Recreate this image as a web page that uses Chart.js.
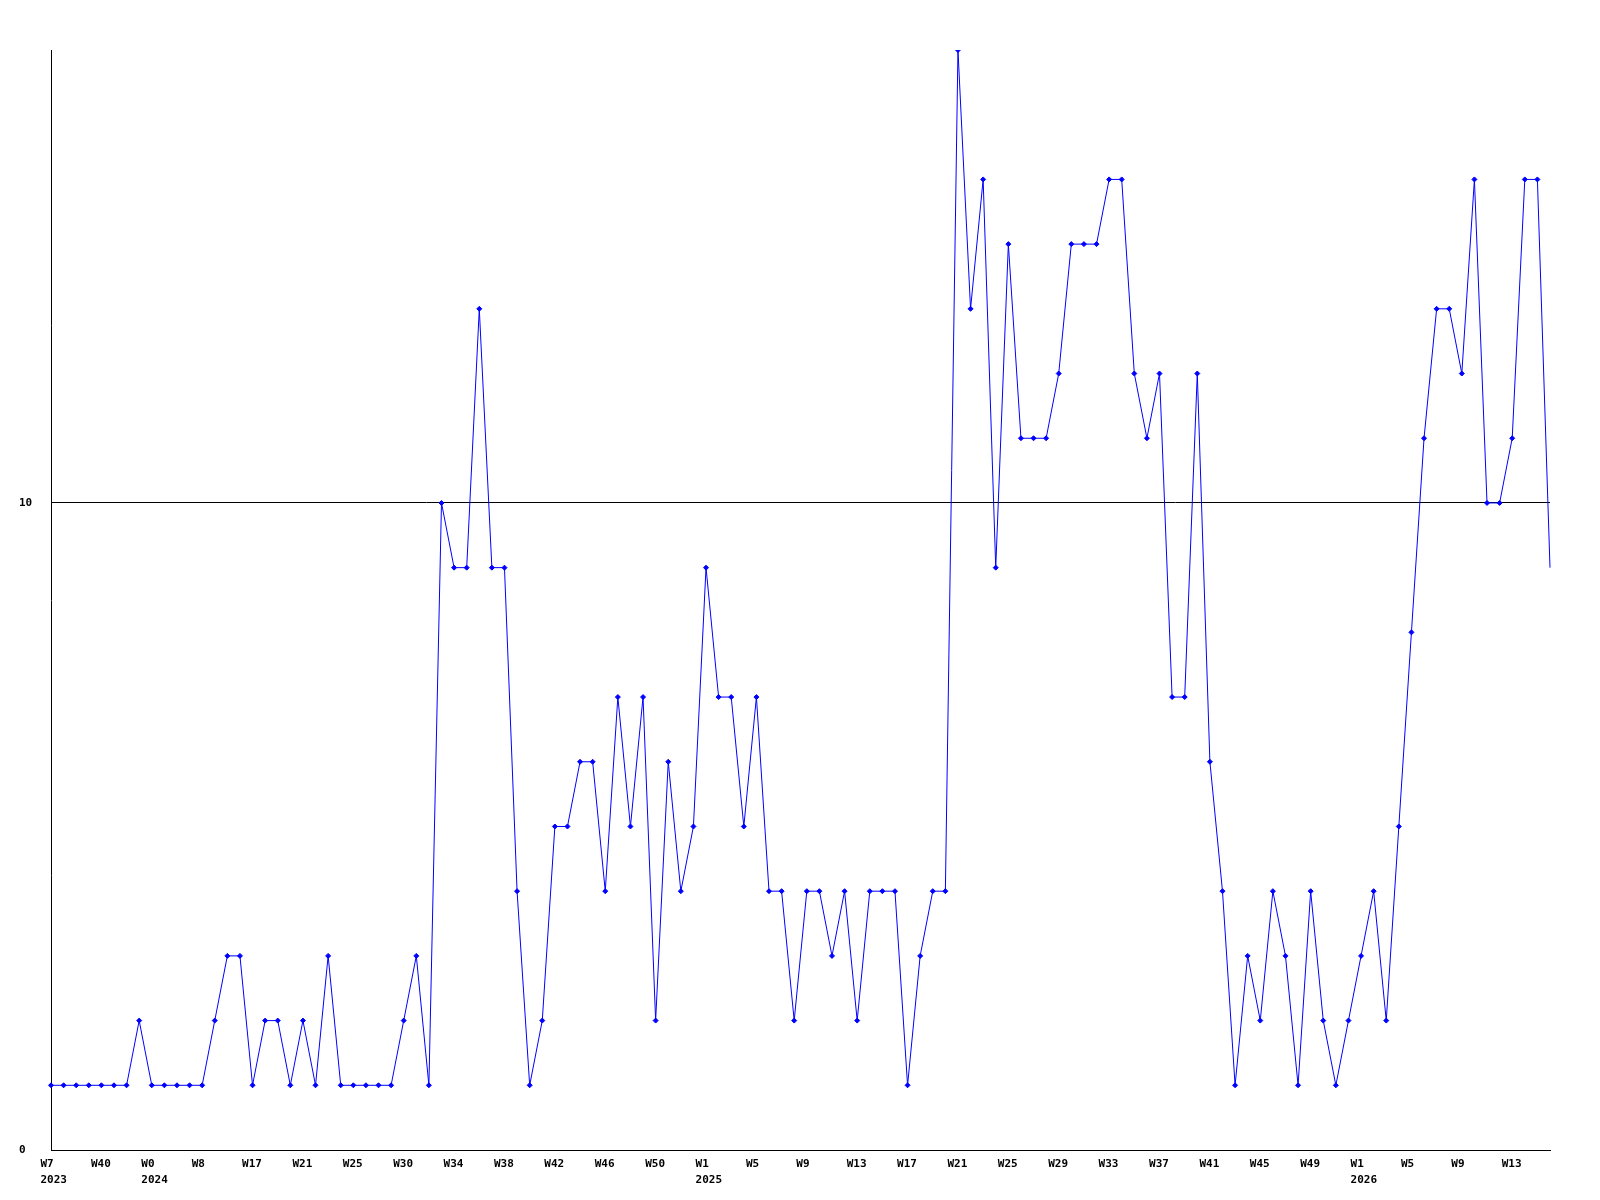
<!DOCTYPE html>
<html>
<head>
<meta charset="utf-8">
<title>Weekly count</title>
<script src="https://cdn.jsdelivr.net/npm/chart.js"></script>
<style>
    body { margin: 0; background: #ffffff; }
    canvas { display: block; }
</style>
</head>
<body>
<canvas id="myChart1" width="1600" height="1200"></canvas>
<script>

// weekly values, one per point
var values = [
    1, 1, 1, 1, 1, 1, 1, 2, 1, 1,
    1, 1, 1, 2, 3, 3, 1, 2, 2, 1,
    2, 1, 3, 1, 1, 1, 1, 1, 2, 3,
    1, 10, 9, 9, 13, 9, 9, 4, 1, 2,
    5, 5, 6, 6, 4, 7, 5, 7, 2, 6,
    4, 5, 9, 7, 7, 5, 7, 4, 4, 2,
    4, 4, 3, 4, 2, 4, 4, 4, 1, 3,
    4, 4, 17, 13, 15, 9, 14, 11, 11, 11,
    12, 14, 14, 14, 15, 15, 12, 11, 12, 7,
    7, 12, 6, 4, 1, 3, 2, 4, 3, 1,
    4, 2, 1, 2, 3, 4, 2, 5, 8, 11,
    13, 13, 12, 15, 10, 10, 11, 15, 15, 9
];

// x tick labels, one every 4 points
var weekLabels = ['W7', 'W40', 'W0', 'W8', 'W17', 'W21', 'W25', 'W30', 'W34', 'W38',
    'W42', 'W46', 'W50', 'W1', 'W5', 'W9', 'W13', 'W17', 'W21', 'W25',
    'W29', 'W33', 'W37', 'W41', 'W45', 'W49', 'W1', 'W5', 'W9', 'W13'];
var yearLabels = ['2023', '', '2024', '', '', '', '', '', '', '',
    '', '', '', '2025', '', '', '', '', '', '',
    '', '', '', '', '', '', '2026', '', '', ''];
var labelStep = 4;

var yTicks = [0, 10];
var yMax = 17;

// category labels for every point, most of them empty
var labels = [];
for (var i = 0; i < values.length; i++) {
    if (i % labelStep === 0) {
        var k = i / labelStep;
        labels.push(yearLabels[k] ? [weekLabels[k], yearLabels[k]] : weekLabels[k]);
    } else {
        labels.push('');
    }
}

var tickFont = {
    family: '"DejaVu Sans Mono", monospace',
    size: 11,
    weight: 'bold',
    lineHeight: 1.45
};

var ctx = document.getElementById('myChart1').getContext('2d');
var chart = new Chart(ctx, {
    type: 'line',

    data: {
        labels: labels,
        datasets: [{
            data: values,
            borderColor: '#0000ff',
            backgroundColor: '#0000ff',
            borderWidth: 1,
            tension: 0,
            fill: false,
            pointStyle: 'rectRot',
            pointRadius: function(c) {
                return c.dataIndex === values.length - 1 ? 0 : 2.5;
            },
            pointBorderWidth: 1,
            pointBorderColor: '#0000ff',
            pointBackgroundColor: '#0000ff'
        }]
    },

    options: {
        responsive: false,
        animation: false,
        devicePixelRatio: 1,
        layout: {
            padding: { left: 19, top: 50, right: 50, bottom: 0 }
        },
        plugins: {
            legend: { display: false },
            tooltip: { enabled: false }
        },
        scales: {
            x: {
                offset: false,
                grid: { display: false, drawTicks: false },
                border: { color: '#000000', width: 1 },
                ticks: {
                    autoSkip: false,
                    maxRotation: 0,
                    minRotation: 0,
                    align: 'start',
                    labelOffset: -10.5,
                    padding: 6,
                    color: '#000000',
                    font: tickFont
                },
                afterFit: function(scale) {
                    scale.height = 50;
                }
            },
            y: {
                min: 0,
                max: yMax,
                z: 1,
                grid: {
                    drawTicks: false,
                    color: function(c) {
                        return c.tick && c.tick.value === 10 ? '#000000' : 'rgba(0,0,0,0)';
                    },
                    lineWidth: 1
                },
                border: { color: '#000000', width: 1 },
                ticks: {
                    crossAlign: 'far',
                    padding: 3,
                    color: '#000000',
                    font: tickFont
                },
                afterBuildTicks: function(scale) {
                    scale.ticks = yTicks.map(function(v) { return { value: v }; });
                },
                afterFit: function(scale) {
                    scale.width = 32;
                }
            }
        }
    }
});

</script>
</body>
</html>
